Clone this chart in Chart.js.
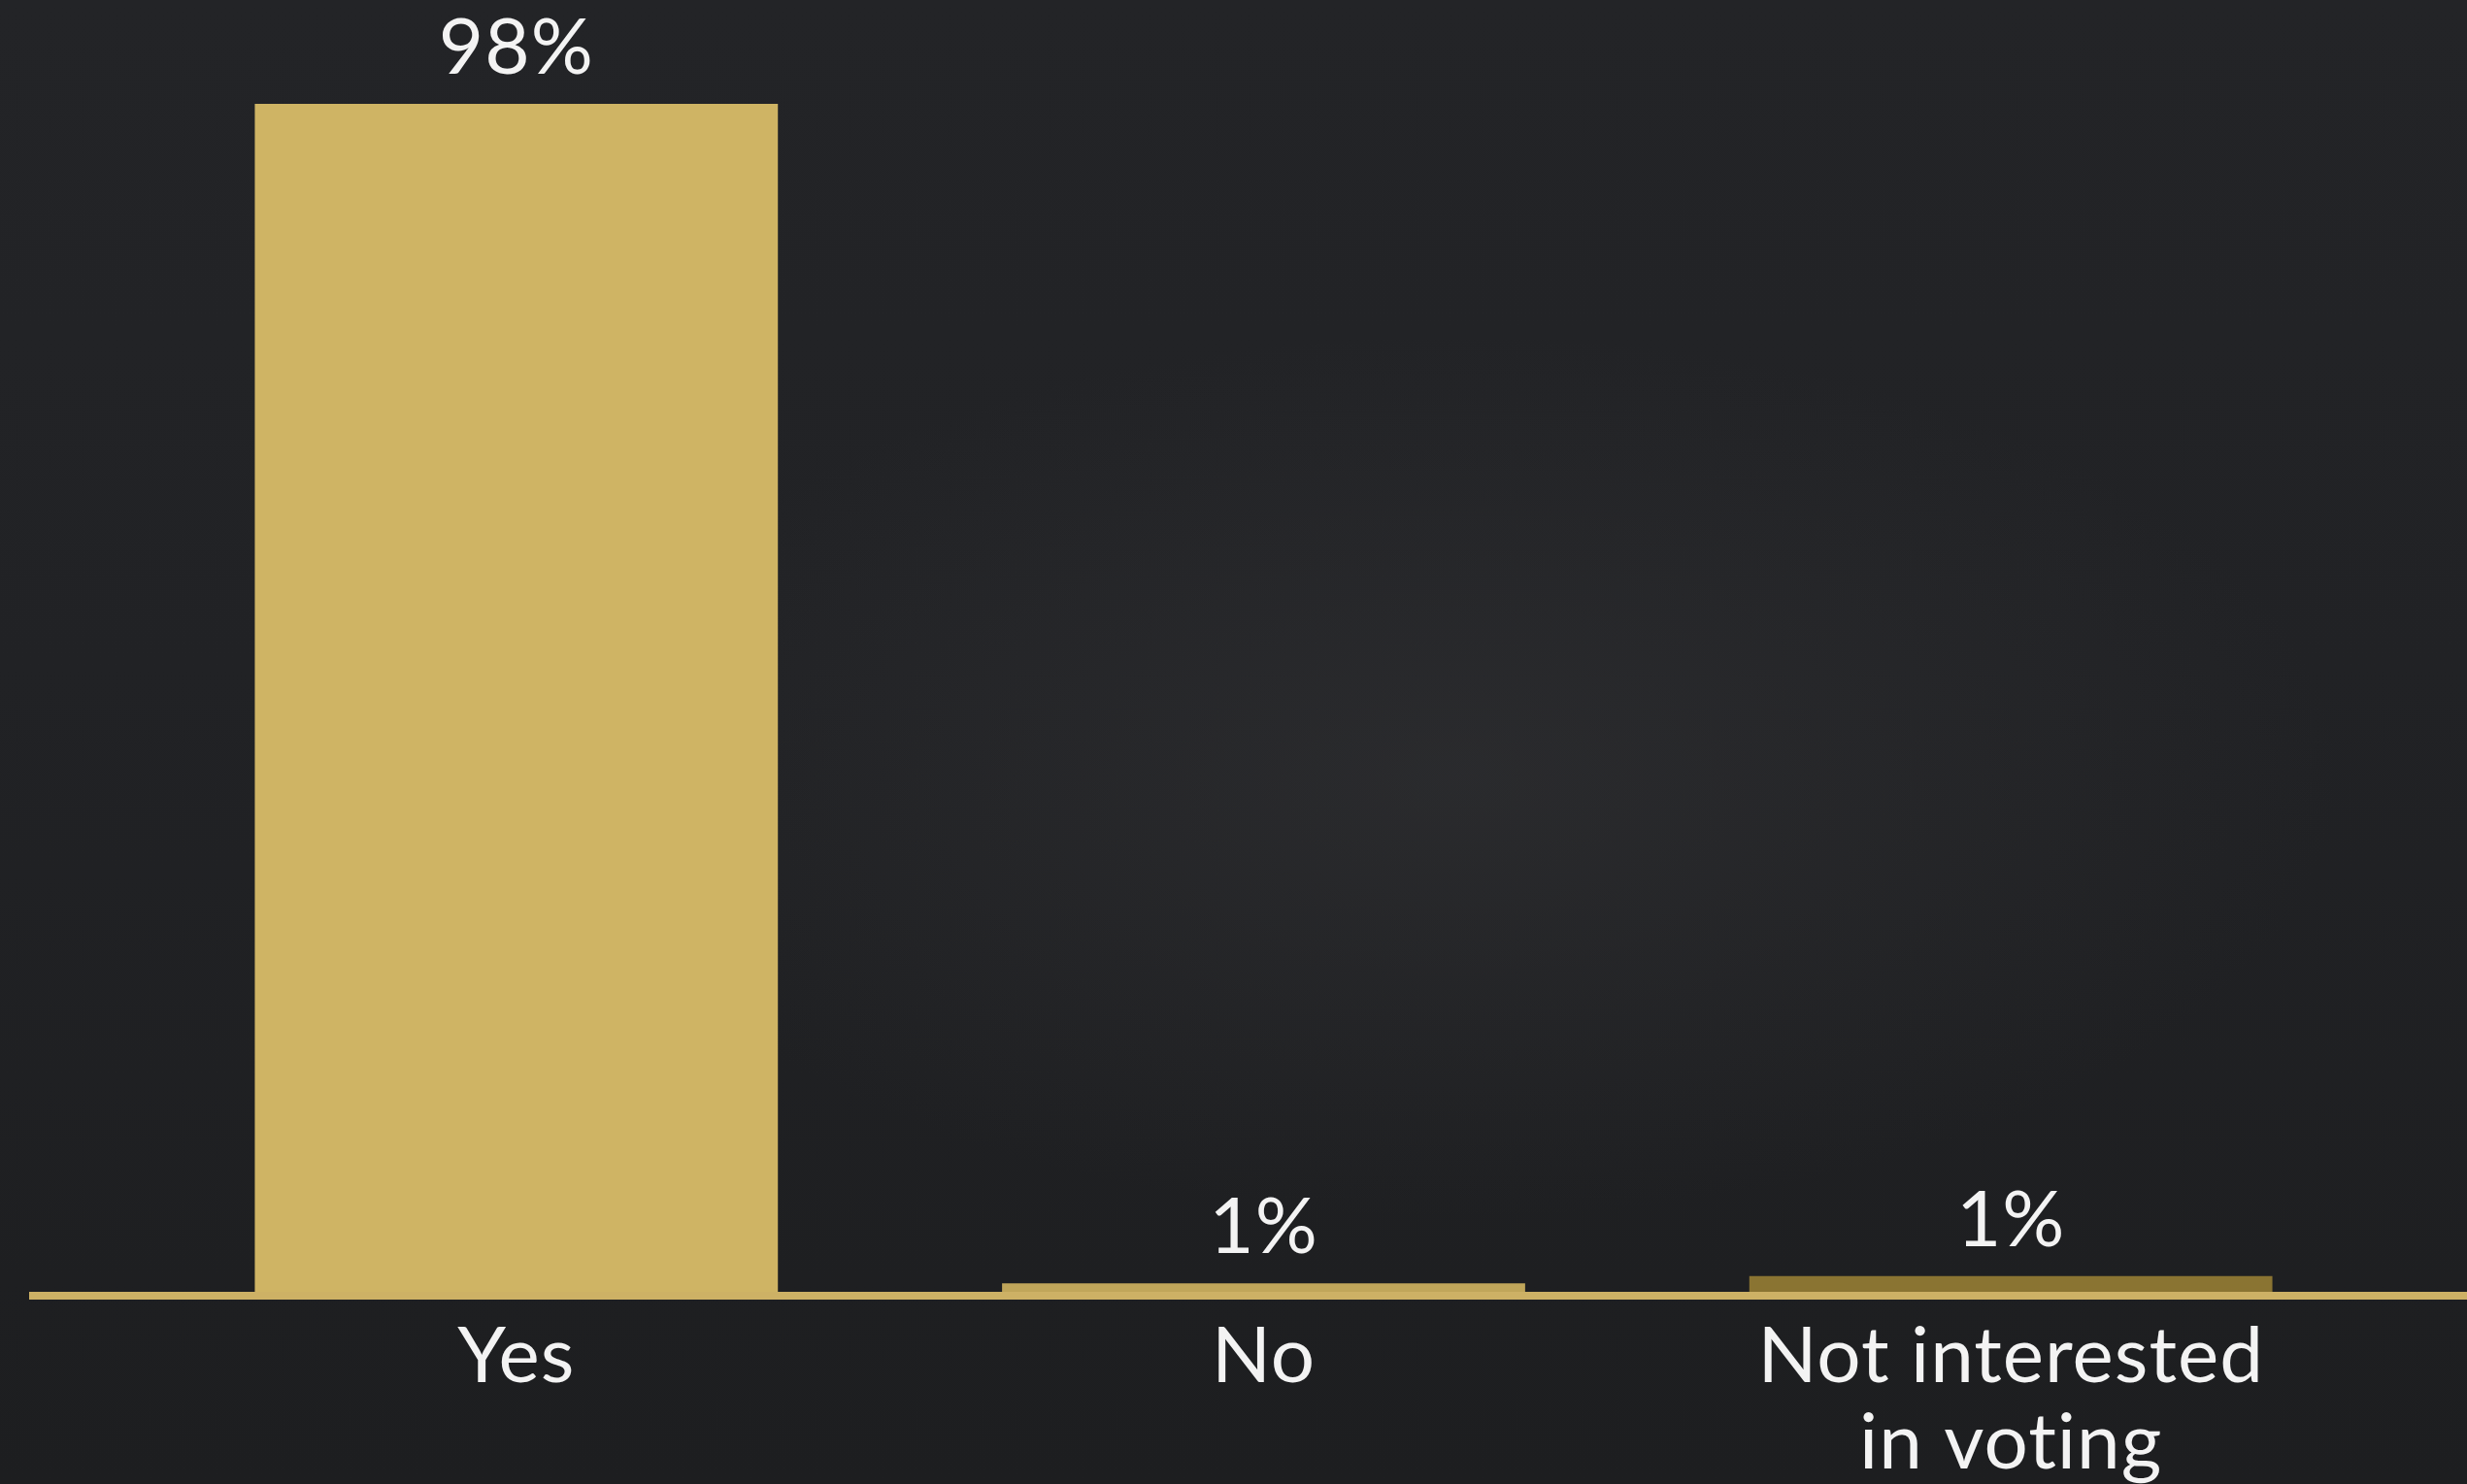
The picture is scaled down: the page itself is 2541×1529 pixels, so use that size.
<!DOCTYPE html>
<html>
<head>
<meta charset="utf-8">
<title>Voting intention</title>
<script src="https://cdn.jsdelivr.net/npm/chart.js@4.4.1/dist/chart.umd.min.js"></script>
<style>
    html, body {
        margin: 0;
        padding: 0;
        width: 2541px;
        height: 1529px;
        overflow: hidden;
        background:
            radial-gradient(ellipse 1300px 650px at 1500px 800px, rgba(60, 60, 62, 0.35), rgba(60, 60, 62, 0) 70%),
            linear-gradient(180deg, #232427 0%, #212225 45%, #1d1e20 100%);
    }
    #wrap {
        position: relative;
        width: 2541px;
        height: 1529px;
    }
</style>
</head>
<body>
<div id="wrap"><canvas id="vote-chart"></canvas></div>
<script>
// Answers and shares (percent)
const categories = ['Yes', 'No', ['Not interested', 'in voting']];
const shares = [98, 0.7, 1.3];
const shareLabels = ['98%', '1%', '1%'];
const barColors = ['#cfb464', '#c0a65a', '#8a7432'];

const FONT = "Lato, 'Noto Sans', sans-serif";

/**
 * Small letter spacing so the font does not join "ti"
 */
const spacingPlugin = {
    id: 'spacing',
    beforeDraw(chart) {
        if ('letterSpacing' in chart.ctx) chart.ctx.letterSpacing = '1px';
    }
};

/**
 * Draw the value text above each bar
 */
const valueLabelPlugin = {
    id: 'valueLabels',
    afterDatasetsDraw(chart) {
        const ctx = chart.ctx;
        const meta = chart.getDatasetMeta(0);
        ctx.save();
        ctx.fillStyle = '#f3f3f3';
        ctx.font = `80px ${FONT}`;
        ctx.textAlign = 'center';
        ctx.textBaseline = 'alphabetic';
        meta.data.forEach((bar, i) => {
            ctx.fillText(shareLabels[i], bar.x, bar.y - 31);
        });
        ctx.restore();
    }
};

/**
 * Gold base line running across the whole width at zero
 */
const baseLinePlugin = {
    id: 'baseLine',
    afterDatasetsDraw(chart) {
        const ctx = chart.ctx;
        const y0 = chart.scales.y.getPixelForValue(0);
        ctx.save();
        ctx.fillStyle = '#cdb165';
        ctx.fillRect(30, y0, chart.width - 30, 8);
        ctx.restore();
    }
};

new Chart(document.getElementById('vote-chart'), {
    type: 'bar',
    data: {
        labels: categories,
        datasets: [{
            data: shares,
            backgroundColor: barColors,
            borderWidth: 0,
            categoryPercentage: 1,
            barPercentage: 0.7
        }]
    },
    options: {
        responsive: true,
        maintainAspectRatio: false,
        animation: false,
        layout: {
            padding: { top: 82, left: 147, right: 85, bottom: 0 }
        },
        plugins: {
            legend: { display: false },
            tooltip: { enabled: false }
        },
        scales: {
            x: {
                grid: { display: false, drawTicks: false },
                border: { display: false },
                ticks: {
                    color: '#f3f3f3',
                    padding: 22,
                    maxRotation: 0,
                    autoSkip: false,
                    font: { family: FONT, size: 80, lineHeight: 1.12 }
                },
                afterFit(scale) {
                    scale.height = 198;
                }
            },
            y: {
                display: false,
                min: 0,
                max: 100
            }
        }
    },
    plugins: [spacingPlugin, valueLabelPlugin, baseLinePlugin]
});
</script>
</body>
</html>
